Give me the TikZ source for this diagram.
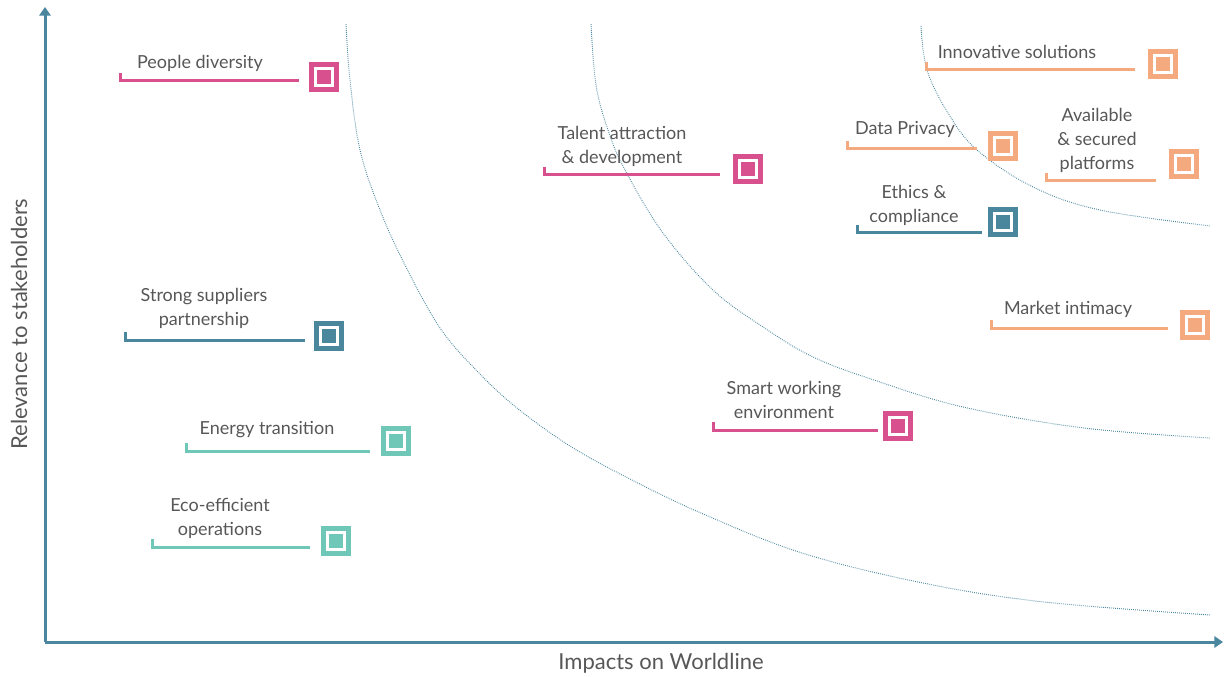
\documentclass[tikz,border=0pt]{standalone}
\usepackage{fontspec}
\setmainfont{Lato}
\usetikzlibrary{arrows.meta}
\definecolor{pinkc}{HTML}{D9508F}
\definecolor{orangec}{HTML}{F5A97E}
\definecolor{tealc}{HTML}{4A869C}
\definecolor{turqc}{HTML}{6FC8B7}
\definecolor{axisc}{HTML}{4A869E}
\definecolor{textc}{HTML}{575757}
\begin{document}
\begin{tikzpicture}[x=0.75pt,y=-0.75pt,
  lbl/.style={text=textc, align=center, font=\fontsize{13.5}{18}\selectfont, inner sep=0pt},
  axlbl/.style={text=textc, font=\fontsize{16.5}{20}\selectfont, inner sep=0pt},
  uline/.style={draw=#1, line width=2.25pt, line join=miter},
  mk/.style={draw=#1, line width=3.75pt, minimum size=18.75pt, inner sep=0pt,
    path picture={\fill[#1] ([shift={(-4.9pt,-4.9pt)}]path picture bounding box.center) rectangle ([shift={(4.9pt,4.9pt)}]path picture bounding box.center);}},
  curve/.style={draw=axisc, line width=0.7pt, dash pattern=on 0.6pt off 0.9pt},
  axis/.style={draw=axisc, line width=2.25pt, -{Triangle[width=8.5pt,length=6.5pt]}}
]
\useasboundingbox (0,0) rectangle (1224,677);

% axes
\coordinate (O) at (45,642);
\coordinate (Ytop) at (45,7);
\coordinate (Xend) at (1223,642);
\draw[axis] (O) -- (Ytop);
\draw[axis] (O) -- (Xend);
\node[axlbl] (xl) at (661,663) {Impacts on Worldline};
\node[axlbl, rotate=90] (yl) at (19,324) {Relevance to stakeholders};

% dotted curves
\draw[curve] plot[smooth, tension=0.6] coordinates {(346,24) (350,80) (360,150) (380,210) (405,265) (440,328) (478,372) (517,408) (570,446) (628,478) (701,513) (802,553) (923,583) (1044,602) (1210,615)};
\draw[curve] plot[smooth, tension=0.6] coordinates {(591,24) (596,85) (608,130) (625,170) (663,233) (713,290) (763,327) (813,357) (874,380) (963,407) (1084,428) (1210,438)};
\draw[curve] plot[smooth, tension=0.6] coordinates {(921,26) (927,70) (948,113) (977,150) (1033,187) (1100,210) (1210,226)};

% 1 People diversity
\node[lbl] (t1) at (200,63) {People diversity};
\coordinate (a1) at (120,73); \coordinate (b1) at (299,81);
\draw[uline=pinkc] (a1) |- (b1);
\node[mk=pinkc] (m1) at (324,77) {};

% 2 Talent
\node[lbl] (t2) at (622,146) {Talent attraction\\\& development};
\coordinate (a2) at (544,167); \coordinate (b2) at (720,175);
\draw[uline=pinkc] (a2) |- (b2);
\node[mk=pinkc] (m2) at (748,169) {};

% 3 Innovative solutions
\node[lbl] (t3) at (1017,52) {Innovative solutions};
\coordinate (a3) at (926,62); \coordinate (b3) at (1135,70);
\draw[uline=orangec] (a3) |- (b3);
\node[mk=orangec] (m3) at (1163,64) {};

% 4 Data Privacy
\node[lbl] (t4) at (905,129) {Data Privacy};
\coordinate (a4) at (847,141); \coordinate (b4) at (977,149);
\draw[uline=orangec] (a4) |- (b4);
\node[mk=orangec] (m4) at (1003,146) {};

% 5 Available & secured platforms
\node[lbl] (t5) at (1097,140) {Available\\\& secured\\platforms};
\coordinate (a5) at (1046,173); \coordinate (b5) at (1156,181);
\draw[uline=orangec] (a5) |- (b5);
\node[mk=orangec] (m5) at (1184,164) {};

% 6 Ethics & compliance
\node[lbl] (t6) at (914,205) {Ethics \&\\compliance};
\coordinate (a6) at (857,225); \coordinate (b6) at (982,233);
\draw[uline=tealc] (a6) |- (b6);
\node[mk=tealc] (m6) at (1003,222) {};

% 7 Market intimacy
\node[lbl] (t7) at (1068,309) {Market intimacy};
\coordinate (a7) at (991,320); \coordinate (b7) at (1168,328);
\draw[uline=orangec] (a7) |- (b7);
\node[mk=orangec] (m7) at (1195,325) {};

% 8 Strong suppliers partnership
\node[lbl] (t8) at (204,308) {Strong suppliers\\partnership};
\coordinate (a8) at (125,332); \coordinate (b8) at (305,340);
\draw[uline=tealc] (a8) |- (b8);
\node[mk=tealc] (m8) at (329,336) {};

% 9 Smart working environment
\node[lbl] (t9) at (784,400) {Smart working\\environment};
\coordinate (a9) at (713,422); \coordinate (b9) at (878,430);
\draw[uline=pinkc] (a9) |- (b9);
\node[mk=pinkc] (m9) at (898,426) {};

% 10 Energy transition
\node[lbl] (t10) at (267,430) {Energy transition};
\coordinate (a10) at (186,443); \coordinate (b10) at (370,451);
\draw[uline=turqc] (a10) |- (b10);
\node[mk=turqc] (m10) at (396,441) {};

% 11 Eco-efficient operations
\node[lbl] (t11) at (220,518) {Eco-efficient\\operations};
\coordinate (a11) at (152,539); \coordinate (b11) at (310,547);
\draw[uline=turqc] (a11) |- (b11);
\node[mk=turqc] (m11) at (336,541) {};
\end{tikzpicture}
\end{document}
